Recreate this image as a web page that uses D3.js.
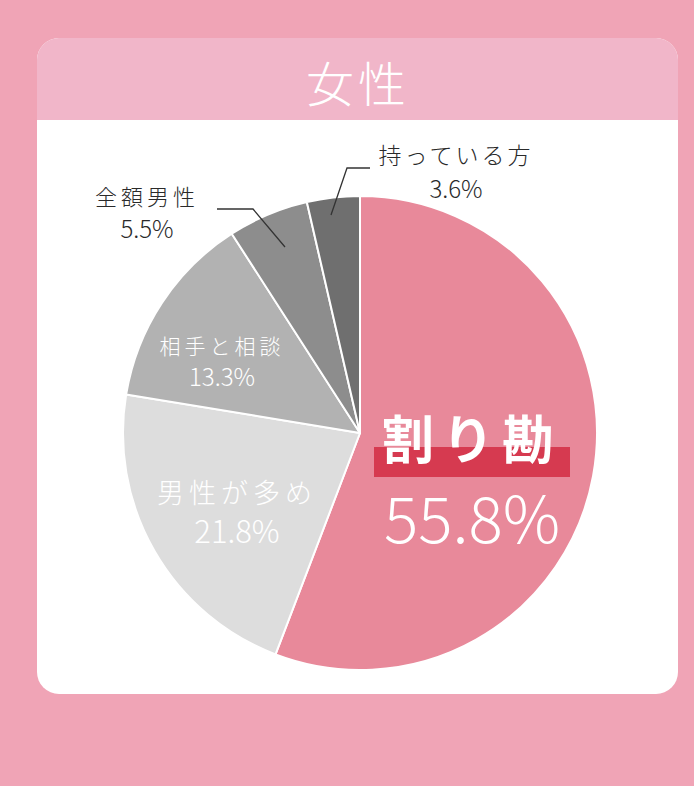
<!DOCTYPE html>
<html>
<head>
<meta charset="utf-8">
<script src="https://cdn.jsdelivr.net/npm/d3@7"></script>
<style>
    html, body { margin: 0; padding: 0; background: #f0a4b6; }
    svg { display: block; font-family: "Noto Sans CJK JP", "Noto Sans", sans-serif; }
</style>
</head>
<body>
<div id="chart"></div>
<script>
const title = "女性";
const categories = ["割り勘", "男性が多め", "相手と相談", "全額男性", "持っている方"];
const values = [55.8, 21.8, 13.3, 5.5, 3.6];
const colors = ["#e8899a", "#dddddd", "#b2b2b2", "#8d8d8d", "#6f6f6f"];

const width = 694;
const height = 786;

const svg = d3.select("#chart").append("svg")
    .attr("width", width)
    .attr("height", height);

svg.append("rect")
    .attr("width", width).attr("height", height)
    .attr("fill", "#f0a4b6");

// card
const card = { x: 37, y: 38, w: 641, h: 656, r: 22 };
svg.append("clipPath").attr("id", "cardClip")
    .append("rect")
    .attr("x", card.x).attr("y", card.y)
    .attr("width", card.w).attr("height", card.h)
    .attr("rx", card.r);

const cardG = svg.append("g").attr("clip-path", "url(#cardClip)");
cardG.append("rect")
    .attr("x", card.x).attr("y", card.y)
    .attr("width", card.w).attr("height", card.h)
    .attr("fill", "#ffffff");
cardG.append("rect")
    .attr("x", card.x).attr("y", card.y)
    .attr("width", card.w).attr("height", 82)
    .attr("fill", "#f1b6c9");

svg.append("text")
    .attr("x", 358).attr("y", 102)
    .attr("text-anchor", "middle")
    .attr("font-size", 48)
    .attr("font-weight", 200)
    .attr("letter-spacing", 4)
    .attr("fill", "#ffffff")
    .text(title);

// pie
const cx = 360, cy = 433, radius = 237;
const data = categories.map((c, i) => ({ name: c, value: values[i], color: colors[i] }));

const pie = d3.pie().value(d => d.value).sort(null);
const arc = d3.arc().innerRadius(0).outerRadius(radius);
const arcs = pie(data);

const g = svg.append("g").attr("transform", `translate(${cx},${cy})`);

g.selectAll("path")
    .data(arcs)
    .enter().append("path")
    .attr("d", arc)
    .attr("fill", d => d.data.color)
    .attr("stroke", "#ffffff")
    .attr("stroke-width", 2)
    .attr("stroke-linejoin", "round");

// main slice label
const main = arcs[0];
svg.append("rect")
    .attr("x", 374).attr("y", 447)
    .attr("width", 196).attr("height", 30)
    .attr("fill", "#d63a50");

svg.append("text")
    .attr("x", 472).attr("y", 459)
    .attr("text-anchor", "middle")
    .attr("font-size", 52)
    .attr("font-weight", 700)
    .attr("letter-spacing", 8)
    .attr("fill", "#ffffff")
    .text(main.data.name);

svg.append("text")
    .attr("x", 472).attr("y", 543)
    .attr("text-anchor", "middle")
    .attr("font-size", 64)
    .attr("font-weight", 300)
    .attr("fill", "#ffffff")
    .text(main.data.value + "%");

// inner labels for the two light slices
const innerLabels = [
    { i: 1, x: 237, y: 503, size: 27, pct: 31, gap: 40, ls: 5 },
    { i: 2, x: 222, y: 354, size: 21, pct: 24, gap: 32, ls: 4 }
];
innerLabels.forEach(l => {
    const d = arcs[l.i].data;
    const t = svg.append("text")
        .attr("text-anchor", "middle")
        .attr("font-weight", 300)
        .attr("fill", "#ffffff");
    t.append("tspan").attr("x", l.x).attr("y", l.y)
        .attr("font-size", l.size).attr("letter-spacing", l.ls).text(d.name);
    t.append("tspan").attr("x", l.x).attr("y", l.y + l.gap)
        .attr("font-size", l.pct).text(d.value + "%");
});

// outside labels with leader lines
const outerLabels = [
    { i: 4, x: 456, y: 164, gap: 34, size: 23, pct: 24, ls: 3, line: [[331, 215], [347, 168], [370, 168]] },
    { i: 3, x: 147, y: 205, gap: 33, size: 22, pct: 24, ls: 4, line: [[285, 247], [253, 209], [217, 209]] }
];
outerLabels.forEach(l => {
    const d = arcs[l.i].data;
    svg.append("path")
        .attr("d", d3.line()(l.line))
        .attr("fill", "none")
        .attr("stroke", "#333333")
        .attr("stroke-width", 1.3);
    const t = svg.append("text")
        .attr("text-anchor", "middle")
        .attr("font-weight", 300)
        .attr("fill", "#2a2a2a");
    t.append("tspan").attr("x", l.x).attr("y", l.y)
        .attr("font-size", l.size).attr("letter-spacing", l.ls).text(d.name);
    t.append("tspan").attr("x", l.x).attr("y", l.y + l.gap)
        .attr("font-size", l.pct).text(d.value + "%");
});
</script>
</body>
</html>
